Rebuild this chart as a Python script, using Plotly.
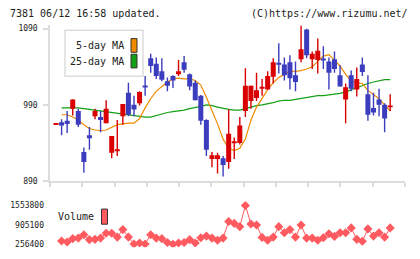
import plotly.graph_objects as go

W, H = 420, 259
def px(x): return x / W
def py(y): return 1 - y / H

# ---------------- data ----------------
date_idx = [10, 20, 30, 40, 50, 60]
date_labels = ["3/30", "4/13", "4/27", "5/15", "5/29", "6/12"]

opens  = [965, 967, 969, 985, 982, 928, 950, 975, 974, 966, 927, 930, 975, 1006, 990, 992, 1015, 1051, 1044, 1034,
          1021, 1028, 1030, 1046, 1030, 1019, 1002, 970, 919, 919, 920, 915, 940, 940, 982, 995, 999, 1012, 1010, 1027,
          1045, 1043, 1046, 1029, 1050, 1089, 1050, 1049, 1050, 1047, 1050, 1029, 997, 1029, 1010, 1043, 1004, 986, 997, 990,
          987]
highs  = [966, 971, 982, 997, 985, 934, 961, 985, 982, 996, 949, 970, 991, 1019, 1002, 1008, 1028, 1057, 1052, 1051,
          1026, 1029, 1049, 1054, 1031, 1022, 1003, 971, 928, 927, 923, 984, 947, 974, 1038, 1015, 1032, 1024, 1034, 1051,
          1071, 1052, 1055, 1047, 1094, 1090, 1060, 1077, 1067, 1052, 1060, 1042, 1018, 1035, 1039, 1052, 1029, 1006, 1011, 992,
          1004]
lows   = [964, 950, 953, 976, 961, 901, 931, 971, 954, 966, 920, 923, 964, 975, 975, 989, 1002, 1032, 1024, 1021,
          1008, 1012, 1028, 1032, 1009, 996, 964, 923, 908, 900, 896, 906, 919, 938, 974, 985, 995, 1002, 1010, 1018,
          1031, 1022, 1010, 1008, 1046, 1051, 1037, 1031, 1037, 1010, 1032, 1014, 966, 1008, 1001, 1028, 969, 976, 975, 954,
          982]
closes = [965, 963, 965, 997, 964, 915, 946, 982, 970, 985, 949, 931, 991, 977, 984, 1007, 1013, 1041, 1028, 1023,
          1015, 1022, 1034, 1036, 1014, 996, 969, 931, 924, 924, 911, 952, 942, 963, 1015, 1015, 1009, 1013, 1028, 1046,
          1043, 1029, 1025, 1020, 1063, 1055, 1057, 1061, 1049, 1032, 1037, 1014, 1013, 1011, 1024, 1033, 977, 980, 990, 972,
          989]

ma5 = [None, 977, 977, 974, 970, 964, 959, 957, 956, 957, 960, 964, 965, 966, 966, 972, 986, 998, 1008, 1014,
       1020, 1024, 1025, 1024, 1024, 1022, 1016, 1000, 983, 965, 945, 933, 930, 933, 945, 970, 987, 998, 1010, 1019,
       1026, 1030, 1034, 1034, 1035, 1037, 1040, 1047, 1054, 1056, 1048, 1041, 1030, 1021, 1019, 1018, 1009, 1004, 998, 990,
       982]
ma25 = [None, 986, 986, 986, 986, 985, 984, 983, 982, 981, 980, 979, 978, 977, 976, 975, 974, 974, 976, 979,
        980, 981, 982, 983, 985, 986, 988, 990, 989, 987, 985, 984, 983, 983, 985, 987, 989, 990, 991, 993,
        995, 996, 996, 997, 998, 999, 1001, 1002, 1002, 1003, 1004, 1005, 1007, 1010, 1013, 1016, 1018, 1020, 1022, 1023,
        1023]
volume = [None, 364000, 331600, 442700, 462300, 573400, 410000, 419800, 462300, 625700, 625700, 495000, 746600, 495000, 262000,
          298900, 262000, 573400, 462300, 442700, 312000, 256400, 298900, 312000, 410000, 298900, 475400, 527600, 462300, 387100,
          462300, 1017800, 952500, 844600, 1553800, 932900, 900200, 485200, 387100, 495000, 844600, 638800, 746600, 495000, 900200,
          462300, 462300, 387100, 475400, 606100, 517800, 638800, 638800, 802200, 419800, 354400, 769500, 527600, 638800, 495000,
          802200]

price_ticks = [890, 990, 1090]
vol_ticks = [256400, 905100, 1553800]
vol_tick_text = ["1553800", "905100", "256400"][::-1]

# ---------------- style ----------------
RED = "#d80000"
BLUE = "#3c3cbe"
ORANGE = "#f08a00"
GREEN = "#14a014"
VOLC = "#ff5a5f"
AX = "#dddddd"
TXT = "#222222"
MONO = "DejaVu Sans Mono"

n = len(opens)
idx = list(range(n))
X0, X1 = -1.08, 62.66
grid_ticks = [X0 + k * (X1 - X0) / 11 for k in range(12)]

fig = go.Figure()

# moving averages (drawn under candles)
fig.add_trace(go.Scatter(x=idx, y=ma25, mode="lines", line=dict(color=GREEN, width=1.2),
                         hoverinfo="skip", xaxis="x", yaxis="y"))
fig.add_trace(go.Scatter(x=idx, y=ma5, mode="lines", line=dict(color=ORANGE, width=1.2),
                         hoverinfo="skip", xaxis="x", yaxis="y"))

# candles
for up, col in ((True, RED), (False, BLUE)):
    wx, wy, bx, by = [], [], [], []
    for i in idx:
        o, h, l, c = opens[i], highs[i], lows[i], closes[i]
        if (c >= o) != up:
            continue
        lo, hi = min(o, c), max(o, c)
        if hi - lo < 2.6:
            m = (o + c) / 2
            lo, hi = m - 1.3, m + 1.3
        wx += [i, i, None]
        wy += [l, h, None]
        bx += [i, i, None]
        by += [lo, hi, None]
    fig.add_trace(go.Scatter(x=wx, y=wy, mode="lines", line=dict(color=col, width=1.4),
                             hoverinfo="skip", xaxis="x", yaxis="y"))
    fig.add_trace(go.Scatter(x=bx, y=by, mode="lines", line=dict(color=col, width=5),
                             hoverinfo="skip", xaxis="x", yaxis="y"))

# volume
fig.add_trace(go.Scatter(x=idx, y=volume, mode="lines+markers",
                         line=dict(color=VOLC, width=1),
                         marker=dict(symbol="diamond", size=7, color=VOLC),
                         hoverinfo="skip", xaxis="x2", yaxis="y2"))

main_dom = [py(184.3), py(24.8)]
vol_dom = [py(252), py(205)]
xdom = [px(50), px(405)]

fig.update_layout(
    width=W, height=H, margin=dict(l=0, r=0, t=0, b=0),
    paper_bgcolor="white", plot_bgcolor="white", showlegend=False,
    font=dict(family=MONO, color=TXT),
    xaxis=dict(domain=xdom, range=[X0, X1], anchor="y", showgrid=False, zeroline=False,
               showline=True, linecolor=AX, linewidth=1.5,
               tickmode="array", tickvals=grid_ticks, showticklabels=False,
               ticks="outside", ticklen=4, tickcolor=AX, tickwidth=1.5),
    xaxis3=dict(overlaying="x", range=[X0, X1], anchor="y", side="bottom", showgrid=False, zeroline=False,
                showline=False, tickmode="array", tickvals=date_idx, ticktext=date_labels,
                ticks="", ticklabelstandoff=7, tickfont=dict(size=8.5, color=TXT, family=MONO)),
    xaxis4=dict(overlaying="x", range=[X0, X1], anchor="y", side="bottom", showgrid=False, zeroline=False,
                showline=False, tickmode="array", tickvals=grid_ticks, showticklabels=False,
                ticks="inside", ticklen=4, tickcolor=AX, tickwidth=1.5),
    yaxis=dict(domain=main_dom, range=[890, 1094.5], anchor="x", showgrid=False, zeroline=False,
               showline=True, linecolor=AX, linewidth=1.5,
               tickmode="array", tickvals=price_ticks, ticktext=[str(v) for v in price_ticks],
               ticks="outside", ticklen=5, tickcolor=AX, tickwidth=1.5, ticklabelstandoff=4,
               tickfont=dict(size=8, color=TXT, family=MONO)),
    yaxis4=dict(overlaying="y", range=[890, 1094.5], anchor="x", showgrid=False, zeroline=False,
                showline=False, tickmode="array", tickvals=price_ticks, showticklabels=False,
                ticks="inside", ticklen=4, tickcolor=AX, tickwidth=1.5),
    xaxis2=dict(domain=xdom, range=[X0, X1], anchor="y2", visible=False),
    yaxis2=dict(domain=vol_dom, range=[158360, 1694324], anchor="x2", showgrid=False, zeroline=False,
                showline=False, tickmode="array", tickvals=vol_ticks, ticktext=[str(v) for v in vol_ticks],
                ticks="", ticklabelstandoff=5, tickfont=dict(size=8, color=TXT, family=MONO)),
)

ann = [
    dict(text="7381 06/12 16:58 updated.", x=px(8), y=py(12.5), xanchor="left"),
    dict(text="(C)https://www.rizumu.net/", x=px(410), y=py(12.5), xanchor="right"),
    dict(text="5-day MA", x=px(125.5), y=py(46), xanchor="right"),
    dict(text="25-day MA", x=px(125.5), y=py(62), xanchor="right"),
    dict(text="Volume", x=px(95.5), y=py(221), xanchor="right"),
]
fig.update_layout(annotations=[dict(a, xref="paper", yref="paper", yanchor="middle", showarrow=False,
                                    font=dict(size=10, color=TXT, family=MONO)) for a in ann])

shapes = [
    dict(type="rect", x0=px(65), x1=px(143), y0=py(77), y1=py(30), line=dict(color=AX, width=1.5),
         fillcolor="white", layer="below"),
    dict(type="rect", x0=px(131), x1=px(137), y0=py(52.5), y1=py(38.5), line=dict(color="#333333", width=1),
         fillcolor=ORANGE),
    dict(type="rect", x0=px(131), x1=px(137), y0=py(68.5), y1=py(54.5), line=dict(color="#333333", width=1),
         fillcolor=GREEN),
    dict(type="rect", x0=px(101.5), x1=px(107.5), y0=py(228.5), y1=py(213), line=dict(color="#333333", width=1),
         fillcolor=VOLC),
]
fig.update_layout(shapes=[dict(s, xref="paper", yref="paper") for s in shapes])

fig.write_html("out.html")
